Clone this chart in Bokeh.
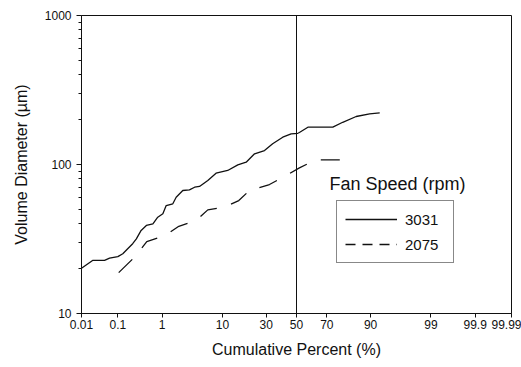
from statistics import NormalDist

from bokeh.embed import file_html
from bokeh.models import (ColumnDataSource, CustomJSTickFormatter, FixedTicker,
                          Label, Legend, LegendItem, Range1d, Span)
from bokeh.plotting import figure
from bokeh.resources import INLINE

# Cumulative percent (%) and volume diameter (um) for each fan speed
pct_3031 = [0.01, 0.021, 0.045, 0.061, 0.10, 0.133, 0.175, 0.23, 0.28, 0.36,
            0.47, 0.65, 0.82, 1.04, 1.21, 1.62, 1.87, 2.46, 3.2, 3.9,
            4.67, 6.25, 8.2, 11.7, 15.5, 19.2, 23.4, 29.0, 34.0, 40.6,
            46.3, 50.9, 52.0, 57.8, 73.5, 78.8, 84.9, 89.7, 92.5]
dia_3031 = [20.1, 22.7, 22.7, 23.5, 24.1, 25.2, 27.2, 29.4, 31.7, 36.1,
            39.0, 40.0, 44.3, 46.7, 53.0, 54.5, 60.3, 66.9, 67.5, 70.4,
            71.2, 78.1, 87.4, 91.2, 99.5, 103.6, 118.0, 124.0, 137.7, 152.5,
            160.7, 162.0, 164.0, 178.0, 178.0, 192.0, 210.0, 218.8, 222.0]

pct_2075 = [0.105, 0.27, 0.48, 1.16, 2.09, 4.14, 6.25, 10.6, 15.9, 21.7,
            23.9, 32.0, 42.9, 52.0, 63.3, 78.8]
dia_2075 = [18.8, 24.3, 30.4, 33.4, 38.5, 42.1, 49.6, 51.7, 57.3, 68.7,
            68.7, 73.4, 84.4, 95.0, 107.5, 107.5]

tick_pct = [0.01, 0.1, 1, 10, 30, 50, 70, 90, 99, 99.9, 99.99]
tick_labels = ["0.01", "0.1", "1", "10", "30", "50", "70", "90", "99", "99.9", "99.99"]
y_ticks = [10, 100, 1000]

series_names = ["3031", "2075"]
legend_title = "Fan Speed (rpm)"

FONT = "Liberation Sans"
INK = "#111111"

_nd = NormalDist()


def probit(p):
    """Normal-probability position of a cumulative percentage."""
    return _nd.inv_cdf(p / 100.0)


src_3031 = ColumnDataSource(dict(z=[probit(v) for v in pct_3031], d=dia_3031))
src_2075 = ColumnDataSource(dict(z=[probit(v) for v in pct_2075], d=dia_2075))

p = figure(width=521, height=367, output_backend="svg", toolbar_location=None,
           y_axis_type="log",
           x_range=Range1d(probit(tick_pct[0]), probit(tick_pct[-1])),
           y_range=Range1d(y_ticks[0], y_ticks[-1]),
           min_border_left=81, min_border_right=10,
           min_border_top=15, min_border_bottom=54)
p.background_fill_color = "white"
p.border_fill_color = "white"
p.xgrid.visible = False
p.ygrid.visible = False
p.outline_line_color = INK
p.outline_line_width = 1

r_3031 = p.line("z", "d", source=src_3031, line_color=INK, line_width=1.3)
r_2075 = p.line("z", "d", source=src_2075, line_color=INK, line_width=1.3,
                line_dash="19 15")

# median reference line
p.add_layout(Span(location=probit(50), dimension="height",
                  line_color=INK, line_width=1))

# x axis: probability scale
tick_z = [probit(t) for t in tick_pct]
p.xaxis.ticker = FixedTicker(ticks=tick_z, minor_ticks=[])
p.xaxis.formatter = CustomJSTickFormatter(
    args=dict(zs=tick_z, labels=tick_labels),
    code="""
    let best = 0;
    for (let i = 0; i < zs.length; i++) {
        if (Math.abs(zs[i] - tick) < Math.abs(zs[best] - tick)) best = i;
    }
    return labels[best];
""")

# y axis: decades with 2..9 minor ticks
y_minor = [m * d for d in y_ticks[:-1] for m in range(2, 10)]
p.yaxis.ticker = FixedTicker(ticks=y_ticks, minor_ticks=y_minor)
p.yaxis.formatter = CustomJSTickFormatter(code="return tick.toFixed(0);")

for ax in (p.xaxis[0], p.yaxis[0]):
    ax.axis_line_color = INK
    ax.axis_line_width = 1
    ax.major_tick_line_color = INK
    ax.minor_tick_line_color = INK
    ax.major_tick_in = 0
    ax.minor_tick_in = 0
    ax.major_label_text_font = FONT
    ax.major_label_text_font_size = "12px"
    ax.major_label_text_color = INK
    ax.axis_label_text_font = FONT
    ax.axis_label_text_font_size = "16px"
    ax.axis_label_text_font_style = "normal"
    ax.axis_label_text_color = INK

p.xaxis.major_tick_out = 4
p.xaxis.major_label_standoff = 2
p.xaxis.axis_label = "Cumulative Percent (%)"
p.xaxis.axis_label_standoff = 9

p.yaxis.major_tick_out = 5
p.yaxis.minor_tick_out = 3
p.yaxis.major_label_standoff = 5
p.yaxis.axis_label = "Volume Diameter (\u00b5m)"
p.yaxis.axis_label_standoff = 12

# legend sample for the dashed series uses a tighter dash
legend_dash = p.line([float("nan")], [float("nan")], line_color=INK,
                     line_width=1.3, line_dash="10 7")

legend = Legend(items=[LegendItem(label=series_names[0], renderers=[r_3031]),
                       LegendItem(label=series_names[1], renderers=[legend_dash])],
                location=(255, 50), orientation="vertical",
                glyph_width=52, glyph_height=20, label_height=20, label_width=40,
                label_standoff=8, padding=8, spacing=5, margin=0,
                label_text_font=FONT, label_text_font_size="15px",
                label_text_color=INK,
                border_line_color=INK, border_line_width=1,
                background_fill_color="white", background_fill_alpha=1)
p.add_layout(legend)

p.add_layout(Label(x=probit(71.6), y=74.5, text=legend_title,
                   text_font=FONT, text_font_size="18px",
                   text_color=INK, text_baseline="middle", text_align="left"))

open("out.html", "w").write(file_html(p, INLINE))
